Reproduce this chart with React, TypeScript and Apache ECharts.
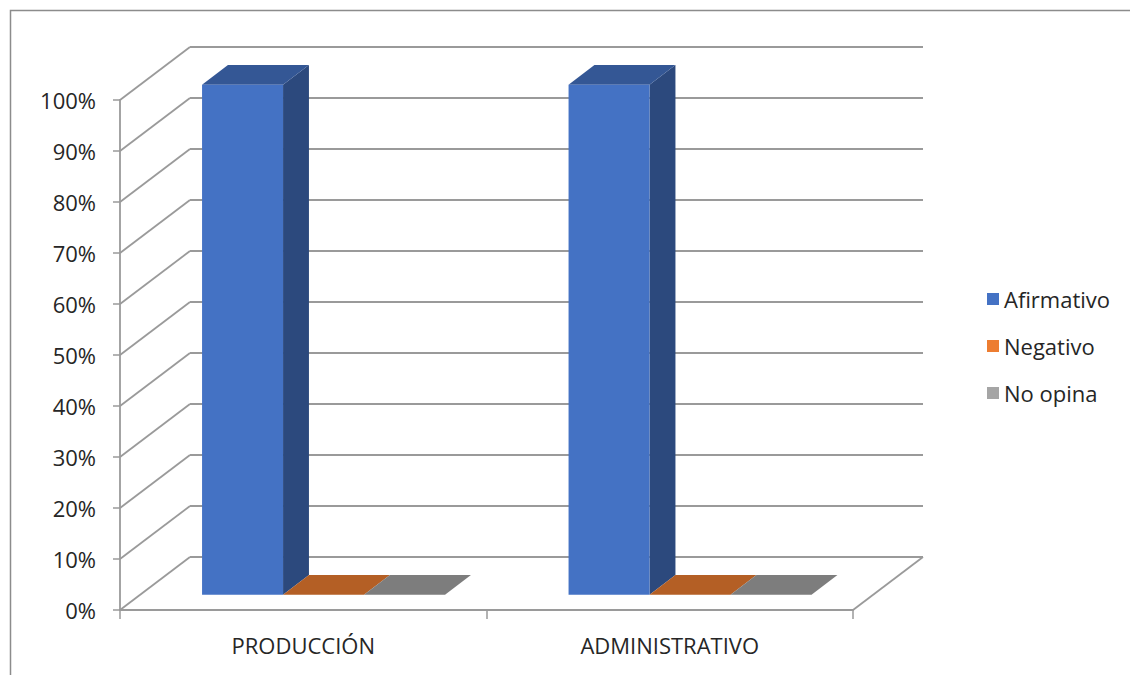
import React, { useEffect, useRef } from 'react';
import * as echarts from 'echarts';

const categories = ['PRODUCCIÓN', 'ADMINISTRATIVO'];
const seriesNames = ['Afirmativo', 'Negativo', 'No opina'];
const afirmativo = [1, 1];
const negativo = [0, 0];
const noOpina = [0, 0];
const yTicks = [0, 0.1, 0.2, 0.3, 0.4, 0.5, 0.6, 0.7, 0.8, 0.9, 1];
const seriesColors = ['#4472C4', '#ED7D31', '#A5A5A5'];

const FONT = "'Open Sans', sans-serif";
const TEXT_COLOR = '#262626';
const WALL_COLOR = '#9a9a9a';
const DEPTH_X = 70;
const DEPTH_Y = -53;
const BAR_T0 = 0.29;
const BAR_T1 = 0.66;
const BAR_FRAC = 0.221;

function shade(hex: string, f: number) {
  const n = parseInt(hex.slice(1), 16);
  const r = Math.round(((n >> 16) & 255) * f);
  const g = Math.round(((n >> 8) & 255) * f);
  const b = Math.round((n & 255) * f);
  return `rgb(${r},${g},${b})`;
}

function wallRender(params: any, api: any) {
  const cs = params.coordSys;
  const v = api.value(1);
  const y = api.coord([0, v])[1];
  const xl = cs.x;
  const xr = cs.x + cs.width;
  const style = { stroke: WALL_COLOR, lineWidth: 1.8, fill: null };
  const children: any[] = [
    { type: 'line', shape: { x1: xl, y1: y, x2: xl + DEPTH_X, y2: y + DEPTH_Y }, style },
    { type: 'line', shape: { x1: xl + DEPTH_X, y1: y + DEPTH_Y, x2: xr + DEPTH_X, y2: y + DEPTH_Y }, style },
  ];
  if (v === 0) {
    children.push({ type: 'line', shape: { x1: xr, y1: y, x2: xr + DEPTH_X, y2: y + DEPTH_Y }, style });
  }
  return { type: 'group', children };
}

function makeBarRender(slot: number, base: string) {
  const topColor = shade(base, 0.76);
  const sideColor = shade(base, 0.64);
  return (params: any, api: any) => {
    const i = api.value(0);
    const v = api.value(1);
    const pTop = api.coord([i, v]);
    const pBot = api.coord([i, 0]);
    const band = api.size([1, 0])[0];
    const w = band * BAR_FRAC;
    const x0 = pTop[0] + slot * w - w / 2;
    const x1 = x0 + w;
    const yT = pTop[1];
    const yB = pBot[1];
    const fx = DEPTH_X * BAR_T0, fy = DEPTH_Y * BAR_T0;
    const bx = DEPTH_X * BAR_T1, by = DEPTH_Y * BAR_T1;
    const children: any[] = [
      {
        type: 'polygon',
        shape: { points: [[x1 + fx, yT + fy], [x1 + bx, yT + by], [x1 + bx, yB + by], [x1 + fx, yB + fy]] },
        style: { fill: sideColor },
      },
      {
        type: 'polygon',
        shape: { points: [[x0 + fx, yT + fy], [x1 + fx, yT + fy], [x1 + bx, yT + by], [x0 + bx, yT + by]] },
        style: { fill: topColor },
      },
    ];
    if (yB - yT > 0.5) {
      children.push({
        type: 'rect',
        shape: { x: x0 + fx, y: yT + fy, width: w, height: yB - yT },
        style: { fill: base },
      });
    }
    return { type: 'group', children };
  };
}

export default function App() {
  const ref = useRef<HTMLDivElement>(null);
  useEffect(() => {
    if (!ref.current) return;
    const chart = echarts.init(ref.current, undefined, { renderer: 'svg' });
    const values = [afirmativo, negativo, noOpina];
    const barSeries = seriesNames.map((name, s) => ({
      name,
      type: 'custom',
      renderItem: makeBarRender(s - 1, seriesColors[s]),
      itemStyle: { color: seriesColors[s] },
      data: categories.map((_, i) => [i, values[s][i]]),
      z: 3,
      clip: false,
    }));
    chart.setOption({
      animation: false,
      backgroundColor: '#ffffff',
      textStyle: { fontFamily: FONT },
      graphic: [
        {
          type: 'rect',
          shape: { x: 10.5, y: 10.5, width: 1200, height: 800 },
          style: { fill: 'none', stroke: '#8c8c8c', lineWidth: 1.5 },
          z: -10,
        },
      ],
      legend: {
        data: seriesNames,
        orient: 'vertical',
        left: 982,
        top: 283,
        itemWidth: 12,
        itemHeight: 12,
        itemGap: 25,
        icon: 'rect',
        textStyle: { fontFamily: FONT, fontSize: 22, color: TEXT_COLOR },
      },
      grid: { left: 120, top: 100, width: 733, height: 510 },
      xAxis: {
        type: 'category',
        data: categories,
        axisLine: { show: true, lineStyle: { color: WALL_COLOR, width: 1.8 } },
        axisTick: { show: true, length: 9, lineStyle: { color: WALL_COLOR, width: 1.5 } },
        axisLabel: { fontFamily: FONT, fontSize: 22, color: TEXT_COLOR, margin: 24 },
        splitLine: { show: false },
      },
      yAxis: {
        type: 'value',
        min: 0,
        max: 1,
        interval: 0.1,
        axisLine: { show: true, lineStyle: { color: WALL_COLOR, width: 1.8 } },
        axisTick: { show: true, length: 7, lineStyle: { color: WALL_COLOR, width: 1.5 } },
        axisLabel: {
          fontFamily: FONT,
          fontSize: 22,
          color: TEXT_COLOR,
          margin: 24,
          formatter: (v: number) => `${Math.round(v * 100)}%`,
        },
        splitLine: { show: false },
      },
      series: [
        {
          name: 'walls',
          type: 'custom',
          renderItem: wallRender,
          data: yTicks.map((v) => [0, v]),
          silent: true,
          z: 1,
          clip: false,
        },
        ...barSeries,
      ],
    });
    return () => chart.dispose();
  }, []);
  return (
    <div
      ref={ref}
      style={{ position: 'fixed', left: 0, top: 0, width: 1130, height: 675 }}
    />
  );
}
